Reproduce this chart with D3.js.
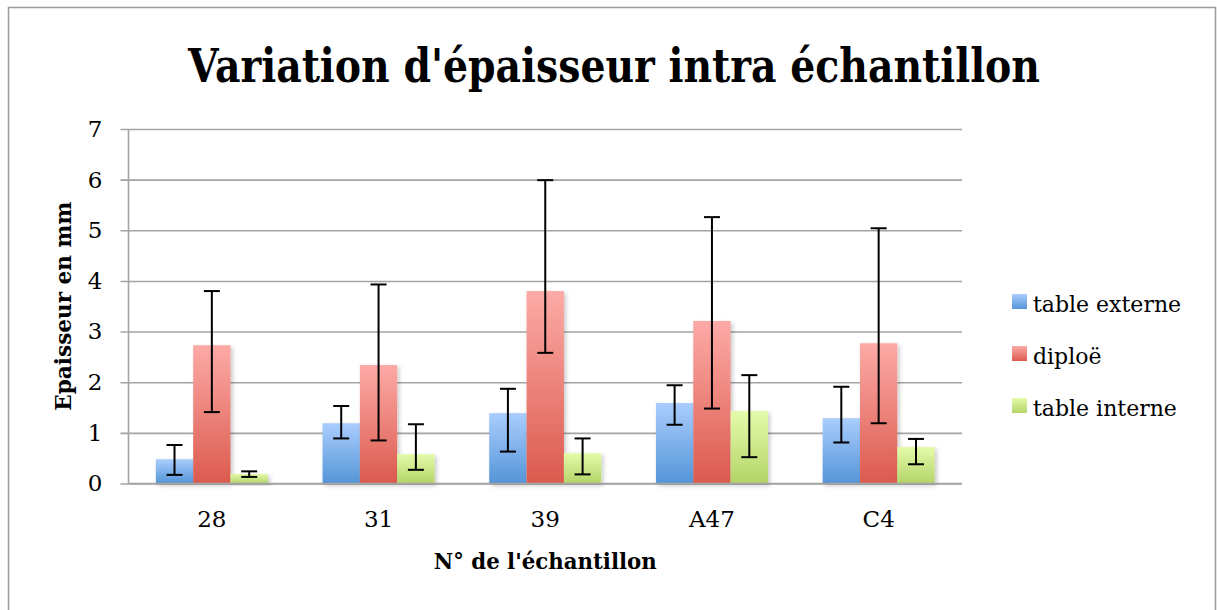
<!DOCTYPE html>
<html>
<head>
<meta charset="utf-8">
<script src="https://cdn.jsdelivr.net/npm/d3@7"></script>
<style>
  html, body { margin: 0; padding: 0; background: #fff; }
  svg { display: block; }
  text { font-family: "DejaVu Serif", "Liberation Serif", serif; fill: #000; }
</style>
</head>
<body>
<svg id="chart" width="1217" height="610"></svg>
<script>
// Sample numbers and measured layers
const categories = ["28", "31", "39", "A47", "C4"];
const seriesNames = ["table externe", "diploë", "table interne"];

// Mean thickness (mm)
const tableExterne = [0.48, 1.19, 1.39, 1.59, 1.29];
const diploe       = [2.73, 2.34, 3.80, 3.21, 2.77];
const tableInterne = [0.19, 0.58, 0.60, 1.43, 0.72];

// Error bar extents above (plus) and below (minus) each mean
const externePlus  = [0.28, 0.34, 0.48, 0.35, 0.62];
const externeMinus = [0.31, 0.30, 0.76, 0.43, 0.48];
const diploePlus   = [1.07, 1.59, 2.19, 2.05, 2.27];
const diploeMinus  = [1.32, 1.49, 1.22, 1.73, 1.58];
const internePlus  = [0.05, 0.59, 0.29, 0.71, 0.16];
const interneMinus = [0.06, 0.31, 0.42, 0.91, 0.34];

const yTicks = [0, 1, 2, 3, 4, 5, 6, 7];

const seriesValues = [tableExterne, diploe, tableInterne];
const seriesPlus = [externePlus, diploePlus, internePlus];
const seriesMinus = [externeMinus, diploeMinus, interneMinus];

// Gradient stops per series (top, bottom)
const gradients = [
  ["#aacdfd", "#5495d8"],
  ["#fdaaa6", "#db5a4e"],
  ["#e4fbaa", "#b3d468"]
];

const svg = d3.select("#chart");

// Frame
svg.append("rect")
  .attr("x", 8.5).attr("y", 7.5)
  .attr("width", 1207).attr("height", 640)
  .attr("fill", "#fff")
  .attr("stroke", "#9a9a9a")
  .attr("stroke-width", 1.5);

const defs = svg.append("defs");
gradients.forEach((g, i) => {
  const lg = defs.append("linearGradient")
    .attr("id", "grad" + i)
    .attr("x1", 0).attr("y1", 0).attr("x2", 0).attr("y2", 1);
  lg.append("stop").attr("offset", "0%").attr("stop-color", g[0]);
  lg.append("stop").attr("offset", "100%").attr("stop-color", g[1]);
});
const shadow = defs.append("filter").attr("id", "barShadow")
  .attr("x", "-20%").attr("y", "-20%").attr("width", "160%").attr("height", "140%");
shadow.append("feDropShadow")
  .attr("dx", 2).attr("dy", 2).attr("stdDeviation", 2)
  .attr("flood-color", "#000").attr("flood-opacity", 0.22);

const plot = { left: 128.5, right: 962, top: 129, bottom: 483.5 };

const x = d3.scaleBand()
  .domain(categories)
  .range([plot.left, plot.right])
  .paddingInner(0.328)
  .paddingOuter(0.164);

const xs = d3.scaleBand()
  .domain(d3.range(seriesNames.length))
  .range([0, x.bandwidth()]);

const y = d3.scaleLinear().domain([0, 7]).range([plot.bottom, plot.top]);

// Gridlines and y axis
const yAxis = d3.axisLeft(y)
  .tickValues(yTicks)
  .tickSize(plot.right - plot.left + 8)
  .tickPadding(18)
  .tickFormat(d3.format("d"));

const gy = svg.append("g")
  .attr("transform", `translate(${plot.right},0)`)
  .call(yAxis);
gy.select(".domain").remove();
gy.selectAll(".tick line")
  .attr("stroke", "#a3a3a3")
  .attr("stroke-width", 1.6);
gy.selectAll(".tick text")
  .style("font-size", "23px")
  .style("font-family", "'DejaVu Serif', serif")
  .attr("fill", "#000");

// Vertical axis line
svg.append("line")
  .attr("x1", plot.left).attr("x2", plot.left)
  .attr("y1", plot.top).attr("y2", plot.bottom)
  .attr("stroke", "#a3a3a3").attr("stroke-width", 1.6);

// Bars
const groups = svg.append("g").selectAll("g")
  .data(categories)
  .join("g")
  .attr("transform", d => `translate(${x(d)},0)`);

groups.selectAll("rect")
  .data((c, ci) => seriesValues.map((vals, si) => ({ si, v: vals[ci] })))
  .join("rect")
  .attr("x", d => xs(d.si))
  .attr("y", d => y(d.v))
  .attr("width", xs.bandwidth())
  .attr("height", d => y(0) - y(d.v))
  .attr("fill", d => `url(#grad${d.si})`)
  .attr("filter", "url(#barShadow)");

// Baseline drawn over the bars
svg.append("line")
  .attr("x1", plot.left).attr("x2", plot.right)
  .attr("y1", y(0)).attr("y2", y(0))
  .attr("stroke", "#a3a3a3").attr("stroke-width", 1.6);

// Error bars
const capHalf = 8;
const errs = groups.selectAll("g.err")
  .data((c, ci) => seriesValues.map((vals, si) => ({
    si,
    hi: vals[ci] + seriesPlus[si][ci],
    lo: vals[ci] - seriesMinus[si][ci]
  })))
  .join("g")
  .attr("class", "err")
  .attr("transform", d => `translate(${xs(d.si) + xs.bandwidth() / 2},0)`)
  .attr("stroke", "#000")
  .attr("stroke-width", 2);
errs.append("line").attr("x1", 0).attr("x2", 0)
  .attr("y1", d => y(d.hi)).attr("y2", d => y(d.lo));
errs.append("line").attr("x1", -capHalf).attr("x2", capHalf)
  .attr("y1", d => y(d.hi)).attr("y2", d => y(d.hi));
errs.append("line").attr("x1", -capHalf).attr("x2", capHalf)
  .attr("y1", d => y(d.lo)).attr("y2", d => y(d.lo));

// X axis labels
const xAxis = d3.axisBottom(x).tickSize(0).tickPadding(27);
const gx = svg.append("g")
  .attr("transform", `translate(0,${plot.bottom})`)
  .call(xAxis);
gx.select(".domain").remove();
gx.selectAll(".tick text")
  .style("font-size", "23px")
  .style("font-family", "'DejaVu Serif', serif")
  .attr("fill", "#000");

// Title
svg.append("text")
  .attr("x", 614).attr("y", 82)
  .attr("text-anchor", "middle")
  .style("font-weight", "bold")
  .style("font-size", "46px")
  .attr("textLength", 852)
  .attr("lengthAdjust", "spacingAndGlyphs")
  .text("Variation d'épaisseur intra échantillon");

// Axis titles
svg.append("text")
  .attr("x", (plot.left + plot.right) / 2).attr("y", 569)
  .attr("text-anchor", "middle")
  .style("font-weight", "bold")
  .style("font-size", "23px")
  .attr("textLength", 223)
  .attr("lengthAdjust", "spacingAndGlyphs")
  .text("N° de l'échantillon");

svg.append("text")
  .attr("transform", `translate(71,${(plot.top + plot.bottom) / 2}) rotate(-90)`)
  .attr("text-anchor", "middle")
  .style("font-weight", "bold")
  .style("font-size", "21.5px")
  .attr("textLength", 209)
  .attr("lengthAdjust", "spacingAndGlyphs")
  .text("Epaisseur en mm");

// Legend
const legendY = [301.5, 353.5, 405.5];
const legend = svg.append("g").selectAll("g")
  .data(seriesNames)
  .join("g")
  .attr("transform", (d, i) => `translate(1012,${legendY[i]})`);
legend.append("rect")
  .attr("x", 0).attr("y", -7.5)
  .attr("width", 15).attr("height", 15)
  .attr("fill", (d, i) => `url(#grad${i})`);
legend.append("text")
  .attr("x", 21).attr("y", 10)
  .style("font-size", "22px")
  .text(d => d);
</script>
</body>
</html>
